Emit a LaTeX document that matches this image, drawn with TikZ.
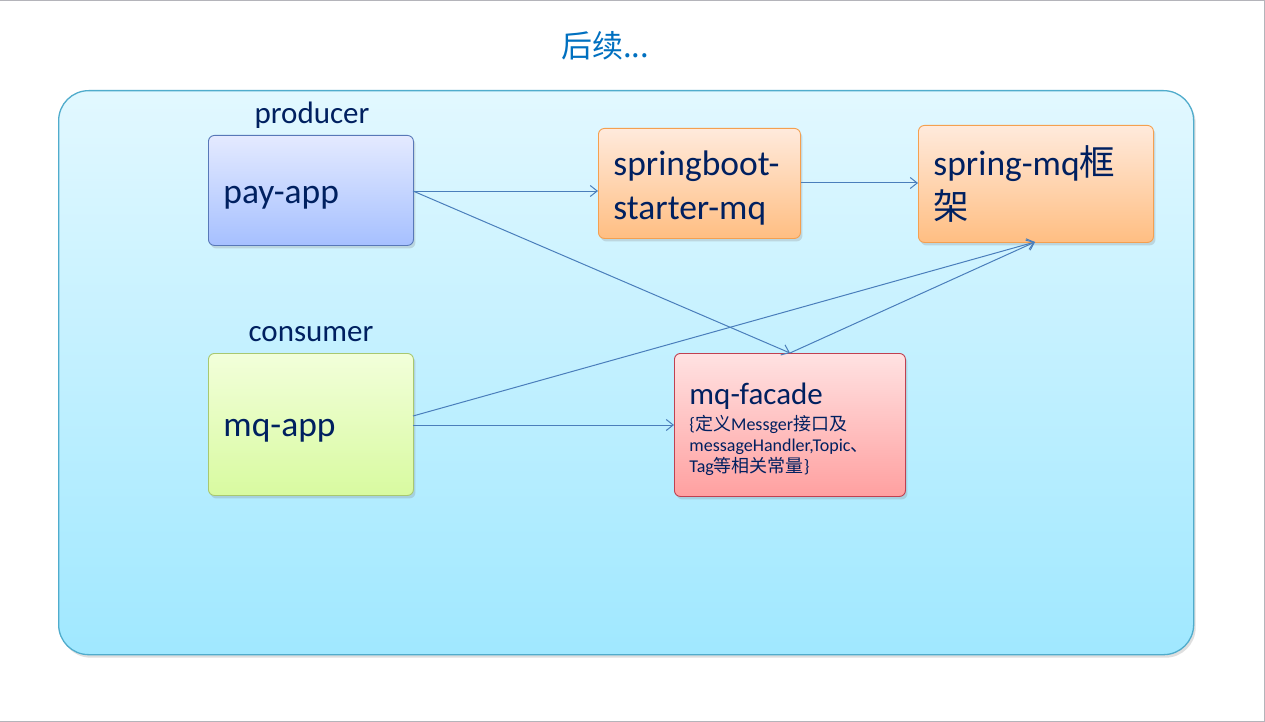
\documentclass[tikz,border=0pt]{standalone}
\usepackage{fontspec}
\setmainfont{Carlito}
\newfontfamily\cjk{Noto Sans CJK SC}
\usetikzlibrary{arrows.meta,shadows}
\definecolor{txt}{RGB}{0,32,96}
\definecolor{ttl}{RGB}{0,112,192}
\definecolor{arr}{RGB}{74,126,187}
\definecolor{frame}{RGB}{180,180,186}
\tikzset{
  box/.style={rounded corners=6pt, line width=0.9pt, anchor=north west,
    inner xsep=15pt, inner ysep=0pt, align=left, text=txt,
    font=\fontsize{35.5}{44}\selectfont,
    drop shadow={opacity=0.25, shadow xshift=2pt, shadow yshift=-3pt}},
  bluebox/.style={box, draw={rgb,255:red,88;green,120;blue,184},
    top color={rgb,255:red,228;green,234;blue,255}, bottom color={rgb,255:red,166;green,192;blue,255}},
  orangebox/.style={box, draw={rgb,255:red,244;green,160;blue,80},
    top color={rgb,255:red,255;green,234;blue,220}, bottom color={rgb,255:red,255;green,190;blue,130}},
  greenbox/.style={box, draw={rgb,255:red,168;green,200;blue,112},
    top color={rgb,255:red,242;green,255;blue,218}, bottom color={rgb,255:red,216;green,250;blue,160}},
  pinkbox/.style={box, draw={rgb,255:red,192;green,64;blue,80},
    top color={rgb,255:red,255;green,226;blue,226}, bottom color={rgb,255:red,255;green,160;blue,160}},
  lbl/.style={text=txt, font=\fontsize{31}{36}\selectfont, inner sep=0pt},
  conn/.style={draw=arr, line width=1pt, -{Straight Barb[length=7pt,width=11pt,line width=1pt]}}
}
\begin{document}
\begin{tikzpicture}[x=1pt,y=-1pt]
\useasboundingbox (0,0) rectangle (1265,722);
\fill[white] (0,0) rectangle (1265,722);
\draw[frame, line width=1.2pt] (0,0.6) -- (1264.4,0.6) -- (1264.4,721.4) -- (0,721.4);
% outer container
\node[draw={rgb,255:red,80;green,172;blue,204}, line width=1.3pt, rounded corners=30pt,
  top color={rgb,255:red,226;green,248;blue,255}, bottom color={rgb,255:red,160;green,232;blue,255},
  drop shadow={opacity=0.25, shadow xshift=2pt, shadow yshift=-3pt},
  minimum width=1135pt, minimum height=564pt, anchor=north west, inner sep=0pt] (outer) at (58,90) {};
\node[text=ttl, font=\fontsize{31}{36}\cjk, inner sep=0pt] (title) at (605,46) {后续...};
\node[lbl] (prod) at (312,115) {producer};
\node[lbl] (cons) at (311,334) {consumer};
\node[bluebox, minimum width=205pt, minimum height=110pt, text width=175pt,
  text height=33pt, text depth=7pt] (pay) at (208,135) {pay-app};
\node[orangebox, minimum width=202pt, minimum height=110pt, text width=172pt] (sb) at (598,128) {\rule{0pt}{34pt}springboot-\\starter-mq};
\node[orangebox, minimum width=235pt, minimum height=117pt, text width=205pt] (smq) at (918,125) {spring-mq{\cjk 框}\\{\cjk 架}};
\node[greenbox, minimum width=205pt, minimum height=142pt, text width=175pt,
  text height=31pt, text depth=7pt] (mqa) at (208,353) {mq-app};
\node[pinkbox, minimum width=231pt, minimum height=143pt, text width=201pt] (fac) at (674,353)
  {{\fontsize{31}{30}\selectfont\rule{0pt}{31pt}mq-facade\par}\vskip 5pt
   {\fontsize{18}{21}\selectfont \{{\cjk 定义}Messger{\cjk 接口及}\\messageHandler,Topic{\cjk 、}\\Tag{\cjk 等相关常量}\}\par}};
\coordinate (payR) at (413,191);
\coordinate (facT) at (790,353);
\coordinate (smqB) at (1035,242);
\coordinate (mqaR1) at (413,416);
\coordinate (mqaR2) at (413,425);
\draw[conn] (payR) -- (sb.west |- payR);
\draw[conn] (payR) -- (facT);
\draw[conn] (sb.east |- 0,183) -- (smq.west |- 0,183);
\draw[conn] (mqaR1) -- (smqB);
\draw[conn] (mqaR2) -- (fac.west |- mqaR2);
\draw[conn] (facT) -- (smqB);
\end{tikzpicture}
\end{document}
